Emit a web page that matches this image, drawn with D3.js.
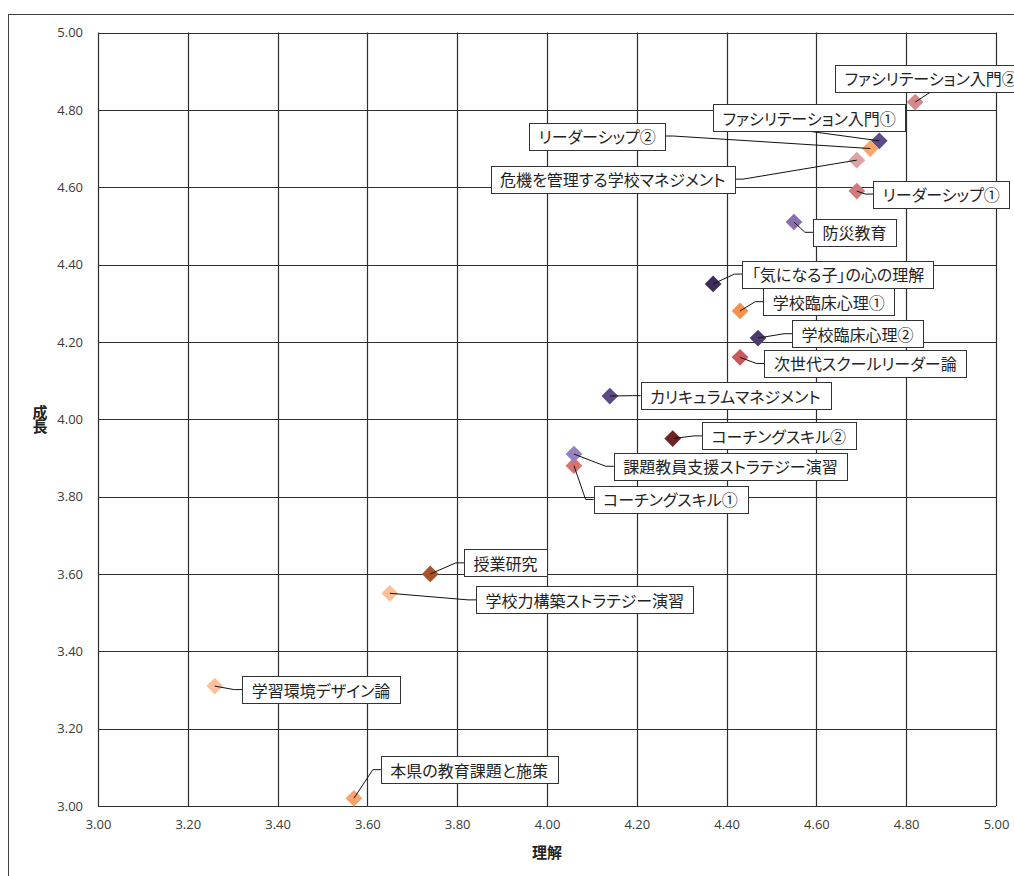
<!DOCTYPE html>
<html lang="ja">
<head>
<meta charset="utf-8">
<script src="https://cdn.jsdelivr.net/npm/d3@7"></script>
<style>
  html, body { margin: 0; padding: 0; background: #fff; }
  svg { display: block; }
  .tick-label { font-family: "Open Sans", "Noto Sans", sans-serif; font-size: 13px; fill: #3a3a3a; }
  .axis-title { font-family: "Noto Sans CJK JP", sans-serif; font-size: 15px; font-weight: 700; fill: #222; }
  .pt-label { font-family: "Noto Sans CJK JP", sans-serif; font-size: 16px; fill: #222; font-feature-settings: "palt" 1; }
</style>
</head>
<body>
<svg id="chart" width="1014" height="876"></svg>
<script>
// 研修講座ごとの評価平均（理解 × 成長）
const courses = [
  "ファシリテーション入門②",
  "ファシリテーション入門①",
  "リーダーシップ②",
  "危機を管理する学校マネジメント",
  "リーダーシップ①",
  "防災教育",
  "「気になる子」の心の理解",
  "学校臨床心理①",
  "学校臨床心理②",
  "次世代スクールリーダー論",
  "カリキュラムマネジメント",
  "コーチングスキル②",
  "コーチングスキル①",
  "課題教員支援ストラテジー演習",
  "授業研究",
  "学校力構築ストラテジー演習",
  "学習環境デザイン論",
  "本県の教育課題と施策"
];
const understanding = [4.82, 4.74, 4.72, 4.69, 4.69, 4.55, 4.37, 4.43, 4.47, 4.43, 4.14, 4.28, 4.06, 4.06, 3.74, 3.65, 3.26, 3.57];
const growth        = [4.82, 4.72, 4.70, 4.67, 4.59, 4.51, 4.35, 4.28, 4.21, 4.16, 4.06, 3.95, 3.88, 3.91, 3.60, 3.55, 3.31, 3.02];
const tickValues = [3.00, 3.20, 3.40, 3.60, 3.80, 4.00, 4.20, 4.40, 4.60, 4.80, 5.00];
const xTitle = "理解";
const yTitle = "成長";

// marker colours per course
const markerColors = [
  "#d48a8c", "#5e4a8b", "#f9a66c", "#dda2a4", "#d27a7c", "#8a6fb0",
  "#3e2d5a", "#f7904a", "#4e3b6e", "#c9585a", "#5b4a85", "#6e2424",
  "#d77272", "#9583c0", "#a8542a", "#f9c09a", "#f9c29c", "#f5a46c"
];

// label box centre, offset in px from its marker
const labelOffsets = [
  [16, -24], [-70, -23], [-273, -12.5], [-244, 19], [84.5, 3], [60.5, 10.3],
  [125, -9.8], [88.7, -9.3], [99.5, -4.3], [125.2, 6.1], [125.6, -0.4], [106.1, -2.7],
  [96.5, 33.8], [156.5, 12.2], [75.2, -11.1], [195, 6.6], [106.3, 3.5], [115.2, -28.6]
];

const svg = d3.select("#chart");
const plot = { left: 98, right: 996, top: 32.5, bottom: 806 };

const x = d3.scaleLinear().domain([3, 5]).range([plot.left, plot.right]);
const y = d3.scaleLinear().domain([3, 5]).range([plot.bottom, plot.top]);

// outer chart frame
svg.append("rect")
  .attr("x", 8.5).attr("y", 14.5)
  .attr("width", 1100).attr("height", 900)
  .attr("fill", "none").attr("stroke", "#404040").attr("stroke-width", 1);

// grid
const grid = svg.append("g").attr("stroke", "#2e2e2e").attr("stroke-width", 1.2);
grid.selectAll("line.v").data(tickValues).join("line")
  .attr("x1", d => Math.round(x(d)) + 0.5).attr("x2", d => Math.round(x(d)) + 0.5)
  .attr("y1", plot.top).attr("y2", plot.bottom);
grid.selectAll("line.h").data(tickValues).join("line")
  .attr("y1", d => Math.round(y(d)) + 0.5).attr("y2", d => Math.round(y(d)) + 0.5)
  .attr("x1", plot.left).attr("x2", plot.right);

// axes (labels only; domain and ticks hidden)
const fmt = d3.format(".2f");
const xAxis = svg.append("g")
  .attr("transform", `translate(0,${plot.bottom})`)
  .call(d3.axisBottom(x).tickValues(tickValues).tickFormat(fmt).tickSize(0).tickPadding(14));
const yAxis = svg.append("g")
  .attr("transform", `translate(${plot.left},0)`)
  .call(d3.axisLeft(y).tickValues(tickValues).tickFormat(fmt).tickSize(0).tickPadding(15));
[xAxis, yAxis].forEach(a => {
  a.select(".domain").remove();
  a.selectAll("text").attr("class", "tick-label").attr("fill", null).attr("font-size", null).attr("font-family", null);
});

// axis titles (y title set vertically, characters stacked)
svg.append("text").attr("class", "axis-title")
  .attr("x", (plot.left + plot.right) / 2).attr("y", 851)
  .attr("text-anchor", "middle").attr("dominant-baseline", "central")
  .text(xTitle);
svg.append("text").attr("class", "axis-title")
  .attr("x", 40).attr("y", (plot.top + plot.bottom) / 2)
  .attr("text-anchor", "middle")
  .style("writing-mode", "vertical-rl")
  .style("text-orientation", "upright")
  .style("letter-spacing", "-1px")
  .text(yTitle);

// markers
const data = courses.map((name, i) => ({
  name, ux: understanding[i], gy: growth[i], color: markerColors[i], off: labelOffsets[i]
}));
const diamond = d3.symbol(d3.symbolSquare, 140);
svg.append("g").selectAll("path").data(data).join("path")
  .attr("d", diamond)
  .attr("transform", d => `translate(${x(d.ux)},${y(d.gy)}) rotate(45)`)
  .attr("fill", d => d.color);

// labels with leader lines
const lines = svg.append("g").attr("fill", "none").attr("stroke", "#111").attr("stroke-width", 1);
const labels = svg.append("g");
const boxH = 27, pad = 9.5, elbow = 8;

data.forEach(d => {
  const mx = x(d.ux), my = y(d.gy);
  const cx = mx + d.off[0], cy = my + d.off[1];
  const g = labels.append("g");
  const rect = g.append("rect").attr("fill", "#fff").attr("stroke", "#333").attr("stroke-width", 1);
  const t = g.append("text").attr("class", "pt-label")
    .attr("x", cx).attr("y", cy).attr("text-anchor", "middle").attr("dominant-baseline", "central")
    .text(d.name);
  const w = t.node().getComputedTextLength() + pad * 2;
  const bx = cx - w / 2, by = cy - boxH / 2;
  rect.attr("x", Math.round(bx) + 0.5).attr("y", Math.round(by) + 0.5)
      .attr("width", Math.round(w)).attr("height", boxH);

  let pts;
  if (mx < bx) {
    pts = [[bx, cy], [bx - elbow, cy], [mx, my]];
  } else if (mx > bx + w) {
    pts = [[bx + w, cy], [bx + w + elbow, cy], [mx, my]];
  } else if (my > cy) {
    pts = [[cx, by + boxH], [mx, my]];
  } else {
    pts = [[cx, by], [mx, my]];
  }
  lines.append("path").attr("d", d3.line()(pts));
});
</script>
</body>
</html>
